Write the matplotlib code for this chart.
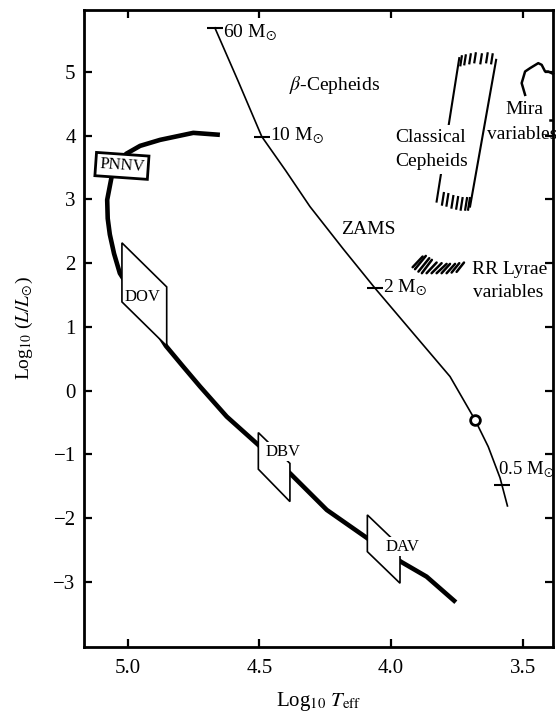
import matplotlib.pyplot as plt
from matplotlib.patches import Polygon

plt.rcParams['font.family'] = ['Liberation Serif', 'DejaVu Serif']
plt.rcParams['mathtext.fontset'] = 'stix'

# zero age main sequence
zams_logT = [4.669, 4.580, 4.491, 4.400, 4.308, 4.181, 4.061, 3.917, 3.776, 3.681, 3.631, 3.586, 3.558]
zams_logL = [5.69, 4.848, 3.985, 3.45, 2.887, 2.219, 1.607, 0.906, 0.221, -0.459, -0.878, -1.369, -1.808]
mass_names = ['60', '10', '2', '0.5']
mass_logT = [4.669, 4.491, 4.061, 3.580]
mass_logL = [5.69, 3.985, 1.607, -1.478]
sun_logT = 3.681
sun_logL = -0.459

# PN nucleus -> white dwarf cooling track
wd_logT = [4.650, 4.751, 4.877, 4.953, 5.006, 5.059, 5.078, 5.076, 5.068, 5.052, 5.030,
           4.855, 4.790, 4.725, 4.624, 4.504, 4.384, 4.244, 4.090, 3.963, 3.865, 3.754]
wd_logL = [4.012, 4.043, 3.933, 3.839, 3.714, 3.400, 2.992, 2.700, 2.450, 2.150, 1.842,
           0.702, 0.380, 0.063, -0.407, -0.851, -1.295, -1.871, -2.315, -2.682, -2.917, -3.318]

# instability boxes on the cooling track
dov_T = [5.022, 4.852, 4.852, 5.022]
dov_L = [2.318, 1.627, 0.702, 1.392]
dbv_T = [4.504, 4.384, 4.384, 4.504]
dbv_L = [-0.658, -1.141, -1.740, -1.232]
dav_T = [4.090, 3.966, 3.966, 4.090]
dav_L = [-1.949, -2.440, -3.020, -2.525]

# classical cepheid strip
ceph_left_T = [3.741, 3.827]
ceph_left_L = [5.215, 2.965]
ceph_right_T = [3.601, 3.700]
ceph_right_L = [5.188, 2.887]
ceph_top_T = [3.734, 3.719, 3.700, 3.681, 3.658, 3.636, 3.617]
ceph_top_L = [5.173, 5.188, 5.204, 5.220, 5.204, 5.220, 5.204]
ceph_bot_T = [3.803, 3.786, 3.767, 3.749, 3.732, 3.715, 3.704]
ceph_bot_L = [3.008, 2.992, 2.961, 2.945, 2.929, 2.929, 2.929]

# RR Lyrae hatch strokes
rr_T0 = [3.918, 3.909, 3.896, 3.883, 3.865, 3.846, 3.827, 3.808, 3.789, 3.770, 3.751]
rr_L0 = [1.936, 1.905, 1.867, 1.842, 1.842, 1.842, 1.842, 1.842, 1.842, 1.852, 1.863]
rr_T1 = [3.880, 3.868, 3.855, 3.845, 3.827, 3.808, 3.789, 3.776, 3.757, 3.741, 3.723]
rr_L1 = [2.103, 2.113, 2.077, 2.051, 2.009, 1.999, 1.988, 1.988, 1.988, 1.999, 2.009]

# Mira region edge
mira_T = [3.491, 3.504, 3.491, 3.472, 3.441, 3.428, 3.415, 3.403, 3.385]
mira_L = [4.639, 4.823, 5.005, 5.058, 5.136, 5.110, 5.005, 5.005, 4.969]

fig = plt.figure(figsize=(5.56, 7.13), dpi=100)
ax = fig.add_axes([0.1511, 0.0926, 0.8435, 0.8934])

# ZAMS
ax.plot(zams_logT, zams_logL, color='black', lw=1.2, zorder=2)
ax.plot(mass_logT, mass_logL, ls='none', marker='_', ms=11, mew=1.5, color='black', zorder=2)
ax.plot(sun_logT, sun_logL, marker='o', ms=7, mfc='white', mec='black', mew=2, zorder=3)
for name, t, l in zip(mass_names, mass_logT, mass_logL):
    dx = 0.031 if name != '0.5' else -0.012
    dy = -0.08 if name == '60' else (0.235 if name == '0.5' else 0.01)
    ax.text(t - dx, l + dy, name + r' M$_{\odot}$', fontsize=14 if name != '0.5' else 13.5,
            ha='left', va='center')

# Cooling track and boxes
ax.plot(wd_logT, wd_logL, color='black', lw=3.3, solid_capstyle='butt', zorder=2)
for bt, bl in [(dov_T, dov_L), (dbv_T, dbv_L), (dav_T, dav_L)]:
    poly = Polygon(list(zip(bt, bl)), closed=True, fc='white', ec='black', lw=1.2, zorder=3)
    ax.add_patch(poly)

ax.text(5.022, 3.525, 'PNNV', rotation=-4, ha='center', va='center', fontsize=12, zorder=5,
        bbox=dict(boxstyle='square,pad=0.22', fc='white', ec='black', lw=2))
ax.text(4.944, 1.475, 'DOV', ha='center', va='center', fontsize=12, zorder=5)
ax.text(4.409, -0.956, 'DBV', ha='center', va='center', fontsize=12, zorder=5,
        bbox=dict(boxstyle='square,pad=0.1', fc='white', ec='none'))
ax.text(3.955, -2.446, 'DAV', ha='center', va='center', fontsize=12, zorder=5,
        bbox=dict(boxstyle='square,pad=0.1', fc='white', ec='none'))

# Cepheid strip
ax.plot(ceph_left_T, ceph_left_L, color='black', lw=1.5, zorder=2)
ax.plot(ceph_right_T, ceph_right_L, color='black', lw=1.5, zorder=2)
for t, l in zip(ceph_top_T, ceph_top_L):
    h = 0.07
    ax.plot([t + 0.038 * h, t - 0.038 * h], [l - h, l + h], color='black', lw=1.6)
for t, l in zip(ceph_bot_T, ceph_bot_L):
    h = 0.09
    ax.plot([t + 0.038 * h, t - 0.038 * h], [l - h, l + h], color='black', lw=1.6)

# RR Lyrae
for t0, l0, t1, l1 in zip(rr_T0, rr_L0, rr_T1, rr_L1):
    ax.plot([t0, t1], [l0, l1], color='black', lw=1.8, solid_capstyle='round')

# Mira
ax.plot(mira_T, mira_L, color='black', lw=1.8, clip_on=False)
ax.plot([3.396, 3.385], [4.247, 4.247], color='black', lw=1.8)

# labels
ax.text(4.213, 4.796, r'$\beta$-Cepheids', fontsize=14, ha='center', va='center')
ax.text(4.086, 2.522, 'ZAMS', fontsize=14, ha='center', va='center')
ax.text(3.985, 3.965, 'Classical', fontsize=14, ha='left', va='center', zorder=5,
        bbox=dict(boxstyle='square,pad=0.2', fc='white', ec='none'))
ax.text(3.985, 3.588, 'Cepheids', fontsize=14, ha='left', va='center', zorder=5,
        bbox=dict(boxstyle='square,pad=0.2', fc='white', ec='none'))
ax.text(3.495, 4.404, 'Mira', fontsize=14, ha='center', va='center')
ax.text(3.635, 4.012, 'variables', fontsize=14, ha='left', va='center')
ax.text(3.694, 1.894, 'RR Lyrae', fontsize=14, ha='left', va='center')
ax.text(3.690, 1.538, 'variables', fontsize=14, ha='left', va='center')

ax.set_xlim(5.166, 3.385)
ax.set_ylim(-4.02, 5.97)
ax.set_xticks([5.0, 4.5, 4.0, 3.5])
ax.set_xticklabels(['5.0', '4.5', '4.0', '3.5'])
ax.set_yticks(range(-3, 6))
ax.tick_params(direction='in', top=True, right=True, length=6, width=1.6, labelsize=15)
ax.tick_params(axis='x', pad=9)
ax.tick_params(axis='y', pad=6)
for s in ax.spines.values():
    s.set_linewidth(2)

ax.set_xlabel(r'Log$_{10}$ $T_{\rm eff}$', fontsize=15, labelpad=8)
ax.set_ylabel(r'Log$_{10}$ ($L/L_{\odot}$)', fontsize=14, labelpad=13)

fig.savefig('out.png', dpi=100)
